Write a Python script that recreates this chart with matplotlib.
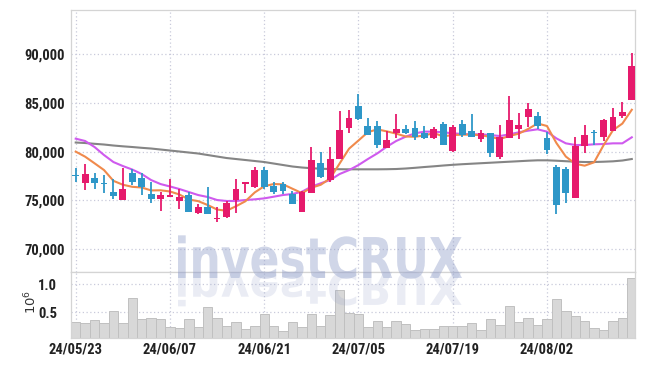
import matplotlib
matplotlib.use("Agg")
import matplotlib.pyplot as plt
import matplotlib.font_manager as fm
from matplotlib.textpath import TextPath
from matplotlib.patches import PathPatch
from matplotlib.transforms import Affine2D, IdentityTransform
import numpy as np

# ---------------- data ----------------
dates = ["24/05/23", "24/06/07", "24/06/21", "24/07/05", "24/07/19", "24/08/02"]
date_idx = [0, 10, 20, 30, 40, 50]

opens = [77600, 76810, 77260, 76810, 75880, 75030, 77770, 77260, 75650, 75165,
         75370, 74960, 75545, 73730, 74280, 73050, 73280, 75030, 76640, 76400,
         78110, 76470, 76670, 75615, 73830, 75720, 78800, 77085, 79240, 82450,
         84680, 82630, 82630, 80400, 81880, 82320, 82450, 81880, 81430, 82830,
         80060, 82830, 82120, 81290, 81880, 79480, 81360, 82320, 83520, 83650,
         81400, 78390, 78180, 75270, 80610, 81940, 81460, 82150, 83650, 85300]
highs = [78285, 78695, 77770, 77600, 77160, 78285, 78180, 77770, 76910, 75880,
         77160, 76130, 75880, 74590, 76400, 74280, 74900, 77160, 76850, 78450,
         78450, 76910, 76910, 75985, 75985, 80440, 79930, 80440, 84170, 84270,
         85880, 83420, 83100, 82150, 83830, 82730, 83100, 82660, 82560, 83000,
         82700, 83250, 83830, 82250, 81880, 82730, 85710, 83930, 84960, 84030,
         82050, 78600, 78400, 81470, 82730, 82250, 83400, 84440, 85120, 90090]
lows = [76910, 76060, 76160, 75780, 75135, 75030, 76570, 75545, 74755, 73935,
        75370, 74075, 73830, 73560, 73560, 72800, 73200, 73665, 75780, 76230,
        76130, 75650, 75650, 74590, 73830, 75720, 77260, 76900, 79240, 81880,
        83250, 81700, 80340, 80340, 81430, 81800, 81200, 81300, 81300, 80680,
        79950, 81500, 81530, 81000, 79480, 79210, 81360, 81260, 82560, 82350,
        79750, 73560, 74690, 75270, 79820, 80680, 81100, 82150, 83500, 85300]
closes = [77500, 77700, 76745, 76640, 75470, 76160, 76910, 76400, 75135, 75545,
          75545, 75370, 73830, 74280, 73560, 73215, 74755, 76130, 76850, 78110,
          76400, 75880, 75955, 74590, 75880, 79140, 77420, 79240, 82220, 83480,
          83350, 81700, 80680, 81190, 82320, 81880, 81530, 81430, 82320, 80680,
          82560, 81700, 81530, 81940, 79820, 81470, 83250, 82730, 84340, 82660,
          80170, 74520, 75780, 80610, 81700, 81900, 83250, 83520, 84030, 88790]

ma5 = [80000, 79480, 78800, 78110, 77000, 76600, 76385, 76316, 76015, 76030,
       75907, 75599, 75085, 74914, 74517, 74051, 73928, 74388, 74902, 75812,
       76449, 76674, 76639, 76187, 75741, 76289, 76597, 77254, 78780, 80300,
       81142, 81998, 82286, 82080, 81848, 81554, 81520, 81670, 81896, 81568,
       81704, 81738, 81758, 81682, 81510, 81292, 81602, 81842, 82322, 82890,
       82630, 80884, 79494, 78748, 78556, 78902, 80648, 82196, 82880, 84298]
ma20 = [81330, 81090, 80470, 79650, 78930, 78520, 78160, 77700, 77080, 76670,
        76420, 76160, 75850, 75540, 75340, 75030, 74930, 74930, 75030, 75100,
        75200, 75370, 75545, 75650, 75880, 76400, 76750, 77085, 77700, 78100,
        78620, 79240, 79820, 80500, 81090, 81530, 81880, 82050, 82050, 81980,
        81880, 81810, 81770, 81770, 81700, 81600, 81770, 81980, 82150, 82290,
        82050, 81360, 80850, 80680, 80680, 80750, 80780, 80850, 80850, 81470]
ma60 = [80934, 80883, 80801, 80729, 80626, 80544, 80472, 80390, 80318, 80216,
        80113, 80010, 79908, 79805, 79651, 79497, 79343, 79240, 79138, 79035,
        78932, 78778, 78624, 78470, 78368, 78296, 78244, 78214, 78193, 78183,
        78183, 78183, 78183, 78193, 78214, 78265, 78337, 78419, 78491, 78573,
        78645, 78706, 78758, 78809, 78860, 78912, 78963, 79014, 79066, 79107,
        79107, 79066, 79014, 78963, 78932, 78932, 78963, 79004, 79086, 79240]

volume = [0.327, 0.309, 0.363, 0.309, 0.518, 0.309, 0.750, 0.380, 0.398, 0.380,
          0.238, 0.220, 0.390, 0.238, 0.589, 0.398, 0.255, 0.339, 0.200, 0.268,
          0.470, 0.255, 0.166, 0.327, 0.238, 0.470, 0.255, 0.452, 0.898, 0.493,
          0.470, 0.238, 0.345, 0.238, 0.345, 0.291, 0.184, 0.214, 0.214, 0.255,
          0.255, 0.255, 0.309, 0.184, 0.380, 0.273, 0.613, 0.327, 0.398, 0.273,
          0.380, 0.738, 0.523, 0.434, 0.345, 0.220, 0.184, 0.345, 0.398, 1.113]

price_ticks = [70000, 75000, 80000, 85000, 90000]
vol_ticks = [0.5, 1.0]

# ---------------- style ----------------
UP = "#e61a6c"
DOWN = "#2e97c8"
C_MA5 = "#f08a4c"
C_MA20 = "#cf5aee"
C_MA60 = "#858585"
GRID = "#c9cadb"
SPINE = "#d4d4d4"

# pick a narrow / condensed font if one is installed
TFONT, TSTRETCH, TSIZE = ["Roboto", "DejaVu Sans"], "normal", 8.6
cands = []
for f in fm.fontManager.ttflist:
    nm = f.name
    if "Narrow" in nm or "Condensed" in nm:
        cands.append((nm, "normal"))
    elif str(f.stretch) in ("condensed", "semi-condensed", "75", "87.5") or (
            isinstance(f.stretch, int) and f.stretch < 500):
        cands.append((nm, "condensed"))
for pref in ["Liberation Sans Narrow", "Roboto Condensed", "Open Sans Condensed",
             "DejaVu Sans Condensed", "DejaVu Sans"]:
    hit = [cc for cc in cands if cc[0] == pref]
    if hit:
        TFONT, TSTRETCH, TSIZE = [hit[0][0], "DejaVu Sans"], hit[0][1], 10.5
        break

W, H = 645, 366
fig = plt.figure(figsize=(W / 100, H / 100), dpi=100)

L, R = 71, 635
ax = fig.add_axes([L / W, 1 - 272 / H, (R - L) / W, (272 - 10) / H])
axv = fig.add_axes([L / W, 1 - 338 / H, (R - L) / W, (338 - 272) / H], sharex=ax)

x = np.arange(len(closes))
o = np.array(opens); c = np.array(closes)
hi = np.array(highs); lo = np.array(lows)
up = c >= o
cols = np.where(up, UP, DOWN)

# grid
for a in (ax, axv):
    for xi in date_idx:
        a.axvline(xi, color=GRID, lw=0.9, ls=(0, (1, 2)), zorder=0)
for yt in price_ticks:
    ax.axhline(yt, color=GRID, lw=0.9, ls=(0, (1, 2)), zorder=0)
for yt in vol_ticks:
    axv.axhline(yt, color=GRID, lw=0.9, ls=(0, (1, 2)), zorder=0)

# MAs
ax.plot(x, ma60, color=C_MA60, lw=1.5, zorder=2)
ax.plot(x, ma20, color=C_MA20, lw=1.5, zorder=2)
ax.plot(x, ma5, color=C_MA5, lw=1.5, zorder=2)

# candles
ax.vlines(x, lo, hi, colors=cols, lw=1.3, zorder=3)
body_h = np.maximum(np.abs(c - o), 110)
body_b = np.minimum(o, c)
ax.bar(x, body_h, bottom=body_b, width=0.72, color=cols, edgecolor="none", zorder=4)

# volume
axv.bar(x, volume, width=1.0, bottom=0, color="#d8d8d8", edgecolor="#c0c0c0", lw=0.7, zorder=2)

ax.set_xlim(-0.5, 59.34)
ax.set_ylim(67640, 94540)
axv.set_ylim(0.05, 1.214)

ax.set_yticks(price_ticks)
ax.set_yticklabels([f"{v:,}" for v in price_ticks])
axv.set_yticks(vol_ticks)
axv.set_yticklabels(["0.5", "1.0"])
axv.set_xticks(date_idx)
axv.set_xticklabels(dates)
ax.tick_params(axis="x", which="both", bottom=False, labelbottom=False)

for a in (ax, axv):
    for s in a.spines.values():
        s.set_color(SPINE)
        s.set_linewidth(0.9)
    a.tick_params(axis="both", length=0, colors="#222222")
    for lab in a.get_xticklabels() + a.get_yticklabels():
        lab.set_fontfamily(TFONT)
        lab.set_fontstretch(TSTRETCH)
        lab.set_fontsize(TSIZE)
        lab.set_fontweight("bold")
ax.tick_params(axis="y", pad=4.3)
axv.tick_params(axis="y", pad=10)
axv.tick_params(axis="x", pad=3.6)

fig.text(31 / W, 1 - 302 / H, r"$\mathregular{10^6}$", rotation=90, ha="center", va="center",
         fontsize=9.5, color="#333333")

# watermark (text + reflection) drawn as paths in pixel space
prop = fm.FontProperties(family="DejaVu Sans", weight="bold")
tp = TextPath((0, 0), "investCRUX", size=100, prop=prop)
ext = tp.get_extents()
cap_h = 73.0  # cap height for size 100
tx0, tx1 = 178, 462
sx = (tx1 - tx0) / ext.width
base_y = H - 278
sy = 41 / cap_h
t_main = Affine2D().translate(-ext.x0, 0).scale(sx, sy).translate(tx0, base_y)
fig.add_artist(PathPatch(tp, transform=t_main + IdentityTransform(),
                         facecolor="#98a4cc", edgecolor="none", alpha=0.45, zorder=10))
sy2 = 33 / cap_h
t_ref = Affine2D().translate(-ext.x0, 0).scale(sx, -sy2).translate(tx0, H - 272)
fig.add_artist(PathPatch(tp, transform=t_ref + IdentityTransform(),
                         facecolor="#98a4cc", edgecolor="none", alpha=0.2, zorder=10))

fig.savefig("out.png", dpi=100)
